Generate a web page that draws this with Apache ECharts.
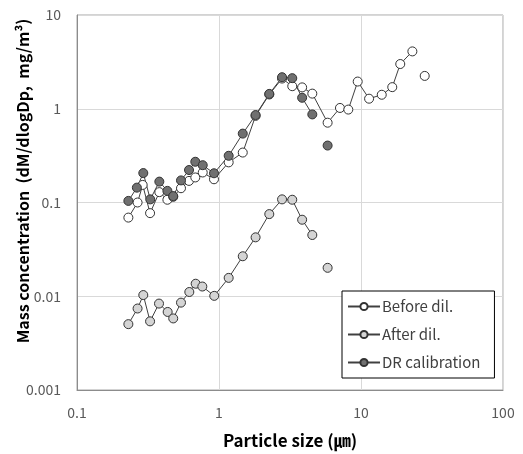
<!DOCTYPE html>
<html>
<head>
<meta charset="utf-8">
<script src="https://cdn.jsdelivr.net/npm/echarts@6/dist/echarts.min.js"></script>
<style>html,body{margin:0;padding:0;background:#fff}#c{width:523px;height:454px}</style>
</head>
<body>
<div id="c"></div>
<script>
// ---- data ----
var seriesNames = ['Before dil.', 'After dil.', 'DR calibration'];
var xTicks = ['0.1', '1', '10', '100'];
var yTicks = ['0.001', '0.01', '0.1', '1', '10'];

var beforeX = [0.23, 0.267, 0.29, 0.327, 0.38, 0.433, 0.476, 0.54, 0.615, 0.681, 0.768, 0.922, 1.17, 1.47, 1.81, 2.26, 2.78, 3.28, 3.85, 4.54, 5.82, 7.11, 8.14, 9.48, 11.4, 14.0, 16.6, 18.9, 23.0, 25.5, 28.1];
var beforeY = [0.069, 0.1, 0.154, 0.077, 0.129, 0.107, 0.115, 0.142, 0.170, 0.185, 0.209, 0.177, 0.268, 0.341, 0.84, 1.42, 2.1, 1.74, 1.69, 1.45, 0.71, 1.02, 0.98, 1.95, 1.28, 1.41, 1.70, 3.0, 4.09, null, 2.24];

var afterX = [0.23, 0.267, 0.293, 0.327, 0.378, 0.435, 0.476, 0.54, 0.618, 0.685, 0.763, 0.926, 1.17, 1.47, 1.81, 2.26, 2.78, 3.28, 3.85, 4.54, 5.2, 5.82];
var afterY = [0.00504, 0.0074, 0.0103, 0.0054, 0.00835, 0.0068, 0.0058, 0.00855, 0.0111, 0.0136, 0.0127, 0.0101, 0.0157, 0.0267, 0.0425, 0.0752, 0.108, 0.107, 0.0655, 0.045, null, 0.0201];

var drX = [0.23, 0.264, 0.293, 0.328, 0.38, 0.433, 0.476, 0.54, 0.615, 0.681, 0.768, 0.922, 1.17, 1.47, 1.81, 2.26, 2.78, 3.28, 3.85, 4.54, 5.2, 5.82];
var drY = [0.104, 0.144, 0.206, 0.108, 0.167, 0.133, 0.117, 0.172, 0.222, 0.272, 0.25, 0.205, 0.315, 0.543, 0.857, 1.44, 2.17, 2.12, 1.31, 0.87, null, 0.405];

function pairs(xs, ys) {
  return xs.map(function (x, i) { return ys[i] === null ? [x, '-'] : [x, ys[i]]; });
}

var FONT = '"Noto Sans CJK KR", "Noto Sans", sans-serif';
var chart = echarts.init(document.getElementById('c'), null, {renderer: 'canvas'});

function mk(name, xs, ys, fill) {
  return {
    name: name, type: 'line', data: pairs(xs, ys),
    symbol: 'circle', symbolSize: 9, connectNulls: false,
    lineStyle: {color: '#404040', width: 1},
    itemStyle: {color: fill, borderColor: '#333333', borderWidth: 1},
    emphasis: {disabled: true}, animation: false
  };
}

chart.setOption({
  animation: false,
  backgroundColor: '#ffffff',
  textStyle: {fontFamily: FONT},
  grid: {left: 77, top: 15, right: 20, bottom: 61, show: true, borderColor: '#a6a6a6', borderWidth: 1},
  xAxis: {
    type: 'log', logBase: 10, min: 0.1, max: 100,
    name: 'Particle size (㎛)', nameLocation: 'middle', nameGap: 42,
    nameTextStyle: {fontFamily: FONT, fontWeight: 'bold', fontSize: 17, color: '#000'},
    axisLine: {show: true, lineStyle: {color: '#8c8c8c'}},
    axisTick: {show: false}, minorTick: {show: false},
    splitLine: {show: true, lineStyle: {color: '#d9d9d9'}},
    axisLabel: {color: '#595959', fontSize: 14, margin: 16, fontFamily: FONT,
      formatter: function (v) { var i = Math.round(Math.log10(v)) + 1; return xTicks[i]; }}
  },
  yAxis: {
    type: 'log', logBase: 10, min: 0.001, max: 10,
    axisLine: {show: true, lineStyle: {color: '#8c8c8c'}},
    axisTick: {show: false}, minorTick: {show: false},
    splitLine: {show: true, lineStyle: {color: '#d9d9d9'}},
    axisLabel: {color: '#595959', fontSize: 14, margin: 16, fontFamily: FONT,
      formatter: function (v) { var i = Math.round(Math.log10(v)) + 3; return yTicks[i]; }}
  },
  legend: {
    orient: 'vertical', left: 342, top: 291,
    data: seriesNames,
    backgroundColor: '#fff', borderColor: '#000', borderWidth: 1,
    padding: [7, 14, 7, 5],
    itemWidth: 32, itemHeight: 9, itemGap: 11,
    textStyle: {color: '#404040', fontSize: 15, fontFamily: FONT, lineHeight: 17, padding: [0, 0, 0, -3]}
  },
  graphic: [{
    type: 'text', x: 23, y: 181, rotation: Math.PI / 2,
    style: {text: 'Mass concentration  (dM/dlogDp,  mg/m³)', font: 'bold 16px ' + FONT, fill: '#000', textAlign: 'center', textVerticalAlign: 'middle'}
  }],
  series: [
    mk(seriesNames[0], beforeX, beforeY, '#ffffff'),
    mk(seriesNames[1], afterX, afterY, '#d4d4d4'),
    mk(seriesNames[2], drX, drY, '#707070')
  ]
});
</script>
</body>
</html>
